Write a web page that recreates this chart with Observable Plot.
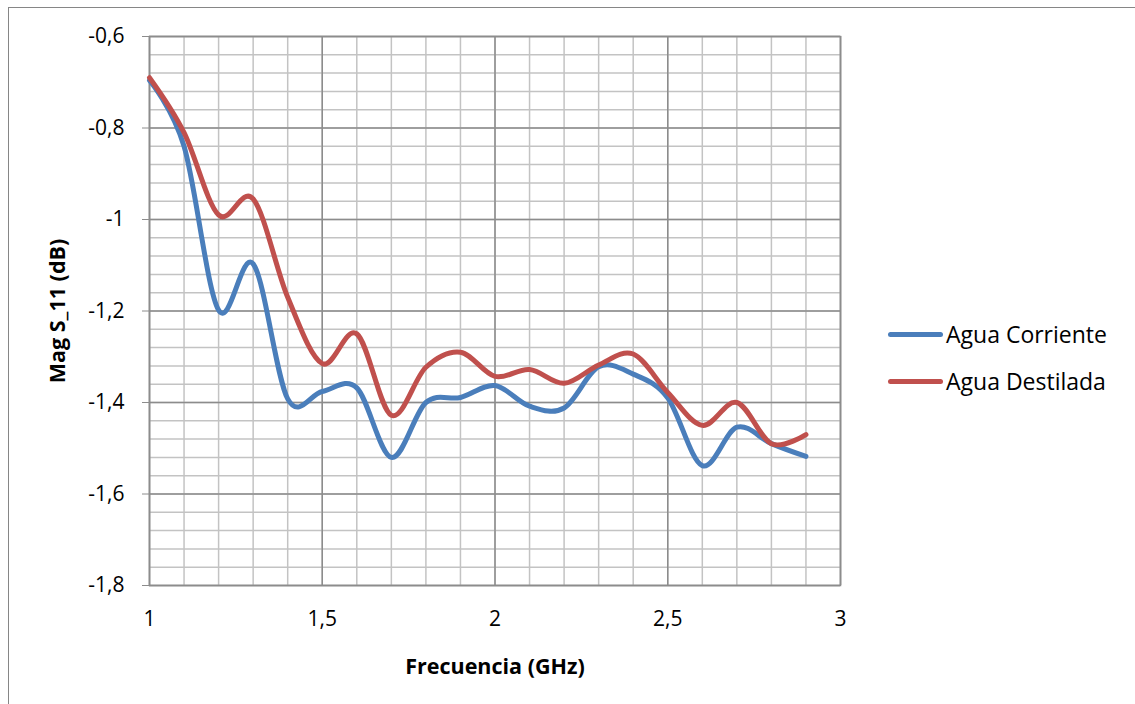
<!DOCTYPE html>
<html>
<head>
<meta charset="utf-8">
<script src="https://cdn.jsdelivr.net/npm/d3@7"></script>
<script src="https://cdn.jsdelivr.net/npm/@observablehq/plot@0.6"></script>
<style>
  html, body { margin: 0; padding: 0; background: #fff; width: 1135px; height: 704px; overflow: hidden; }
  #wrap { position: relative; width: 1135px; height: 704px; font-family: "Open Sans", sans-serif; }
  #border { position: absolute; left: 8px; top: 7px; width: 1200px; height: 800px; border: 1px solid #868686; }
  #chart { position: absolute; left: 0; top: 0; }
  .leg { position: absolute; left: 888px; display: flex; align-items: center; font-size: 23px; color: #000; }
  .sw { width: 55px; height: 5px; border-radius: 3px; margin-right: 3px; }
</style>
</head>
<body>
<div id="wrap">
  <div id="border"></div>
  <div id="chart"></div>
</div>
<script>
const freq = [1.0, 1.1, 1.2, 1.3, 1.4, 1.5, 1.6, 1.7, 1.8, 1.9, 2.0, 2.1, 2.2, 2.3, 2.4, 2.5, 2.6, 2.7, 2.8, 2.9];
const aguaCorriente = [-0.696, -0.84, -1.198, -1.097, -1.392, -1.376, -1.368, -1.52, -1.40, -1.389, -1.363, -1.408, -1.412, -1.322, -1.338, -1.39, -1.538, -1.454, -1.49, -1.518];
const aguaDestilada = [-0.69, -0.81, -0.99, -0.955, -1.17, -1.315, -1.25, -1.428, -1.323, -1.29, -1.343, -1.328, -1.358, -1.318, -1.294, -1.378, -1.45, -1.40, -1.49, -1.47];
const seriesNames = ["Agua Corriente", "Agua Destilada"];
const seriesColors = ["#4a7ebb", "#c0504d"];
const xTicks = [1, 1.5, 2, 2.5, 3];
const yTicks = [-0.6, -0.8, -1.0, -1.2, -1.4, -1.6, -1.8];
const xMinorTicks = d3.range(0, 21).map(i => 1 + i * 0.1);
const yMinorTicks = d3.range(0, 31).map(i => -0.6 - i * 0.04);

const data = [];
freq.forEach((f, i) => {
  data.push({f, v: aguaCorriente[i], s: seriesNames[0]});
});
freq.forEach((f, i) => {
  data.push({f, v: aguaDestilada[i], s: seriesNames[1]});
});

const fmt = d => String(+d.toFixed(1)).replace(".", ",");

const chart = Plot.plot({
  width: 1135,
  height: 704,
  marginLeft: 149,
  marginRight: 295,
  marginTop: 36,
  marginBottom: 119,
  style: {fontFamily: "Open Sans, sans-serif", background: "transparent"},
  x: {domain: [1, 3]},
  y: {domain: [-1.8, -0.6]},
  color: {domain: seriesNames, range: seriesColors},
  marks: [
    Plot.gridX(xMinorTicks, {stroke: "#c3c3c3", strokeOpacity: 1, strokeWidth: 1.5}),
    Plot.gridY(yMinorTicks, {stroke: "#c3c3c3", strokeOpacity: 1, strokeWidth: 1.5}),
    Plot.gridX(xTicks, {stroke: "#8c8c8c", strokeOpacity: 1, strokeWidth: 1.5}),
    Plot.gridY(yTicks, {stroke: "#8c8c8c", strokeOpacity: 1, strokeWidth: 1.5}),
    Plot.frame({stroke: "#8c8c8c", strokeWidth: 1.5}),
    Plot.axisY(yTicks, {
      tickSize: 7, tickPadding: 18, tickFormat: fmt, fontSize: 21, stroke: "#8c8c8c",
      label: "Mag S_11 (dB)", labelAnchor: "center", labelArrow: "none", labelOffset: 100
    }),
    Plot.axisX(xTicks, {
      tickSize: 0, tickPadding: 26, tickFormat: fmt, fontSize: 21,
      label: "Frecuencia (GHz)", labelAnchor: "center", labelArrow: "none", labelOffset: 88
    }),
    Plot.lineY(data, {x: "f", y: "v", stroke: "s", z: "s", curve: "cardinal", strokeWidth: 5, strokeLinecap: "round"})
  ]
});

// bold axis titles, larger
chart.querySelectorAll("g[aria-label='y-axis label'] text, g[aria-label='x-axis label'] text").forEach(t => {
  t.setAttribute("font-weight", "bold");
  t.setAttribute("font-size", "21.5");
});
document.getElementById("chart").appendChild(chart);

const wrap = document.getElementById("wrap");
const legendY = [334, 381];
seriesNames.forEach((name, i) => {
  const row = document.createElement("div");
  row.className = "leg";
  row.style.top = (legendY[i] - 16) + "px";
  row.style.height = "32px";
  const sw = document.createElement("div");
  sw.className = "sw";
  sw.style.background = seriesColors[i];
  const tx = document.createElement("span");
  tx.textContent = name;
  row.appendChild(sw);
  row.appendChild(tx);
  wrap.appendChild(row);
});
</script>
</body>
</html>
